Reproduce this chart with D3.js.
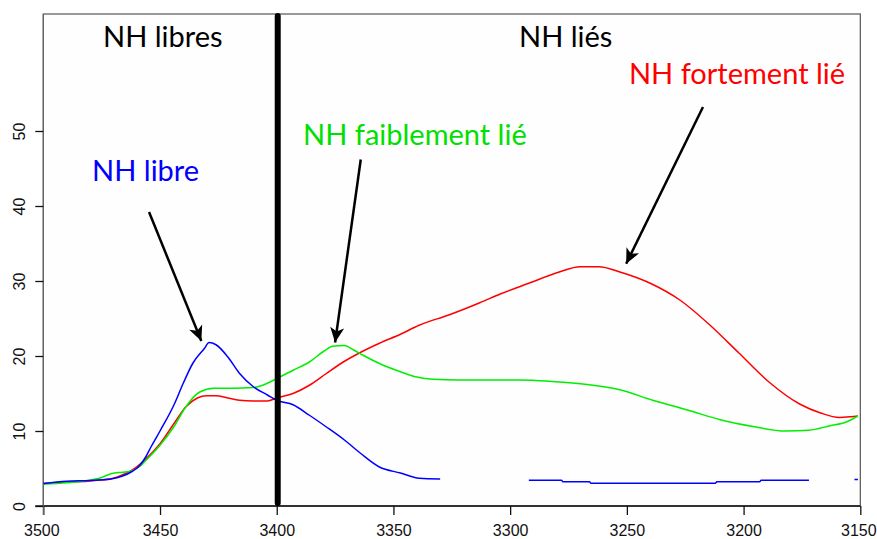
<!DOCTYPE html>
<html>
<head>
<meta charset="utf-8">
<script src="https://cdn.jsdelivr.net/npm/d3@7/dist/d3.min.js"></script>
<style>
  html, body { margin: 0; padding: 0; background: #ffffff; }
  svg { display: block; }
</style>
</head>
<body>
<svg id="chart" width="877" height="539"></svg>
<script>
// Wavenumber (cm-1) and intensity for each NH band
const blueWn = [3500, 3490, 3480, 3471, 3466, 3462, 3459, 3456, 3454, 3450, 3444, 3440, 3436, 3431, 3429, 3426, 3421, 3416, 3410, 3404, 3400, 3393, 3386, 3379, 3371, 3364, 3356, 3347, 3339, 3330,
                null,
                3292, 3278, 3277.5, 3266, 3265.5, 3212, 3211.5, 3193, 3192.5, 3172,
                null,
                3152.5, 3151];
const blueVal = [3.0, 3.3, 3.4, 3.6, 4.0, 4.6, 5.3, 6.6, 7.8, 10.0, 13.5, 16.4, 19.0, 21.0, 21.8, 21.5, 19.9, 17.7, 15.9, 14.8, 14.1, 13.5, 12.1, 10.6, 8.8, 7.0, 5.2, 4.4, 3.7, 3.6,
                 null,
                 3.45, 3.45, 3.25, 3.25, 3.05, 3.05, 3.25, 3.25, 3.45, 3.45,
                 null,
                 3.55, 3.55];

const greenWn = [3500, 3490, 3481, 3475, 3471, 3466, 3463, 3459, 3456, 3450, 3444, 3439, 3433, 3427, 3419, 3410, 3406, 3400, 3393, 3386, 3380, 3376, 3371, 3367, 3363, 3356, 3347, 3340, 3333, 3322, 3310, 3296, 3282, 3267, 3253, 3239, 3224, 3210, 3196, 3182, 3172, 3163, 3156, 3151];
const greenVal = [2.9, 3.1, 3.4, 3.8, 4.3, 4.5, 4.6, 5.2, 6.1, 8.1, 10.6, 13.2, 15.2, 15.7, 15.7, 15.8, 16.1, 17.0, 18.1, 19.2, 20.6, 21.3, 21.4, 20.8, 20.1, 19.0, 17.9, 17.2, 16.9, 16.8, 16.8, 16.8, 16.6, 16.2, 15.5, 14.1, 12.8, 11.5, 10.6, 10.0, 10.1, 10.7, 11.2, 12.0];

const redWn = [3500, 3490, 3481, 3478, 3470, 3465, 3461, 3456, 3450, 3444, 3439, 3434, 3430, 3426, 3421, 3416, 3410, 3404, 3400, 3393, 3386, 3379, 3372, 3364, 3356, 3347, 3339, 3326, 3313, 3304, 3292, 3279, 3270, 3262, 3253, 3240, 3227, 3214, 3202, 3189, 3176, 3167, 3159, 3154, 3151];
const redVal = [3.0, 3.2, 3.3, 3.4, 3.7, 4.3, 5.0, 6.3, 8.3, 11.0, 13.2, 14.4, 14.7, 14.7, 14.4, 14.1, 14.0, 14.0, 14.4, 15.0, 16.1, 17.6, 19.1, 20.5, 21.7, 22.9, 24.1, 25.5, 27.1, 28.3, 29.7, 31.2, 31.9, 31.9, 31.2, 29.7, 27.4, 24.0, 20.4, 16.5, 13.6, 12.4, 11.8, 11.9, 12.0];

const xTicks = [3500, 3450, 3400, 3350, 3300, 3250, 3200, 3150];
const yTicks = [0, 10, 20, 30, 40, 50];

// Region headings and band labels, placed in data units
const headings = [
  { text: "NH libres", wn: 3474.4, val: 61.2, color: "#000000" },
  { text: "NH liés",   wn: 3296.2, val: 61.2, color: "#000000" }
];
const bandLabels = [
  { text: "NH libre",          wn: 3479.1, val: 43.3, color: "#0000ff" },
  { text: "NH faiblement lié", wn: 3388.7, val: 48.1, color: "#00e000" },
  { text: "NH fortement lié",  wn: 3249.1, val: 56.3, color: "#ff0000" }
];
// Arrows pointing from each label to its band maximum
const arrows = [
  { from: [3454.7, 39.2], to: [3432.3, 22.0] },
  { from: [3364.0, 46.2], to: [3375.0, 21.8] },
  { from: [3217.4, 53.2], to: [3250.3, 32.3] }
];
const separatorWn = 3400;

const svg = d3.select("#chart");
const plotLeft = 43.3, plotRight = 860.3, plotTop = 14, plotBottom = 506;

const x = d3.scaleLinear().domain([3500, 3150]).range([plotLeft, plotRight]);
const y = d3.scaleLinear().domain([0, 50]).range([plotBottom, 131]);

// Plot frame
svg.append("rect")
  .attr("x", plotLeft).attr("y", plotTop)
  .attr("width", plotRight - plotLeft).attr("height", plotBottom - plotTop)
  .attr("fill", "#fefefe")
  .attr("stroke", "#555").attr("stroke-width", 1.2);

// Axes (R style: outward ticks, rotated y labels)
const axisFont = "'Liberation Sans', Arial, sans-serif";
const xAxis = d3.axisBottom(x).tickValues(xTicks).tickSize(9).tickSizeOuter(0).tickFormat(d3.format("d"));
const gx = svg.append("g").attr("transform", `translate(0,${plotBottom})`).call(xAxis);
gx.select(".domain").attr("stroke", "#111").attr("stroke-width", 1.3).attr("d", `M${plotLeft - 8},0H${plotRight}`);
gx.selectAll(".tick line").attr("stroke", "#111").attr("stroke-width", 1.3);
gx.selectAll(".tick text")
  .attr("font-family", axisFont)
  .attr("font-size", 16).attr("fill", "#111")
  .attr("dy", null).attr("y", 30)
  .attr("dx", d => d === 3150 ? -2 : (d === 3500 ? -2 : 0));

const yAxis = d3.axisLeft(y).tickValues(yTicks).tickSize(8).tickSizeOuter(0);
const gy = svg.append("g").attr("transform", `translate(${plotLeft},0)`).call(yAxis);
gy.select(".domain").attr("stroke", "#666").attr("stroke-width", 1.2).attr("d", `M0,${plotTop}V${plotBottom + 9}`);
gy.selectAll(".tick line").attr("stroke", "#111").attr("stroke-width", 1.3);
gy.selectAll(".tick text")
  .attr("font-family", axisFont)
  .attr("font-size", 16).attr("fill", "#111")
  .attr("x", null).attr("dy", null)
  .attr("text-anchor", "middle")
  .attr("transform", "translate(-18,0) rotate(-90)");

// Spectra
function series(wn, val) {
  return wn.map((w, i) => ({ w, v: val[i] }));
}
const line = d3.line()
  .defined(d => d.w !== null && d.v !== null)
  .curve(d3.curveMonotoneX)
  .x(d => x(d.w)).y(d => y(d.v));

const plot = svg.append("g");
[[redWn, redVal, "#ff0000"], [greenWn, greenVal, "#00ee00"], [blueWn, blueVal, "#0000ff"]]
  .forEach(([wn, val, col]) => {
    plot.append("path")
      .datum(series(wn, val))
      .attr("d", line)
      .attr("fill", "none")
      .attr("stroke", col)
      .attr("stroke-width", 1.5)
      .attr("stroke-linejoin", "round");
  });

// Separator between free and bonded NH
svg.append("line")
  .attr("x1", x(separatorWn) + 1).attr("x2", x(separatorWn) + 1)
  .attr("y1", plotTop + 2).attr("y2", plotBottom - 3)
  .attr("stroke", "#000").attr("stroke-width", 6).attr("stroke-linecap", "round");

// Arrowhead
const defs = svg.append("defs");
defs.append("marker")
  .attr("id", "head")
  .attr("markerUnits", "userSpaceOnUse")
  .attr("viewBox", "-16 -8 18 16")
  .attr("refX", 0).attr("refY", 0)
  .attr("markerWidth", 18).attr("markerHeight", 16)
  .attr("orient", "auto")
  .append("path")
  .attr("d", "M0,0 L-15,-7 L-11,0 L-15,7 Z")
  .attr("fill", "#000");

svg.append("g").selectAll("line").data(arrows).join("line")
  .attr("x1", d => x(d.from[0])).attr("y1", d => y(d.from[1]))
  .attr("x2", d => x(d.to[0])).attr("y2", d => y(d.to[1]))
  .attr("stroke", "#000").attr("stroke-width", 2.5)
  .attr("marker-end", "url(#head)");

// Text
const textFont = "Lato, 'Open Sans', sans-serif";
svg.append("g").selectAll("text").data(headings.concat(bandLabels)).join("text")
  .attr("x", d => x(d.wn)).attr("y", d => y(d.val))
  .attr("font-family", textFont)
  .attr("font-size", 29)
  .attr("fill", d => d.color)
  .text(d => d.text);
</script>
</body>
</html>
